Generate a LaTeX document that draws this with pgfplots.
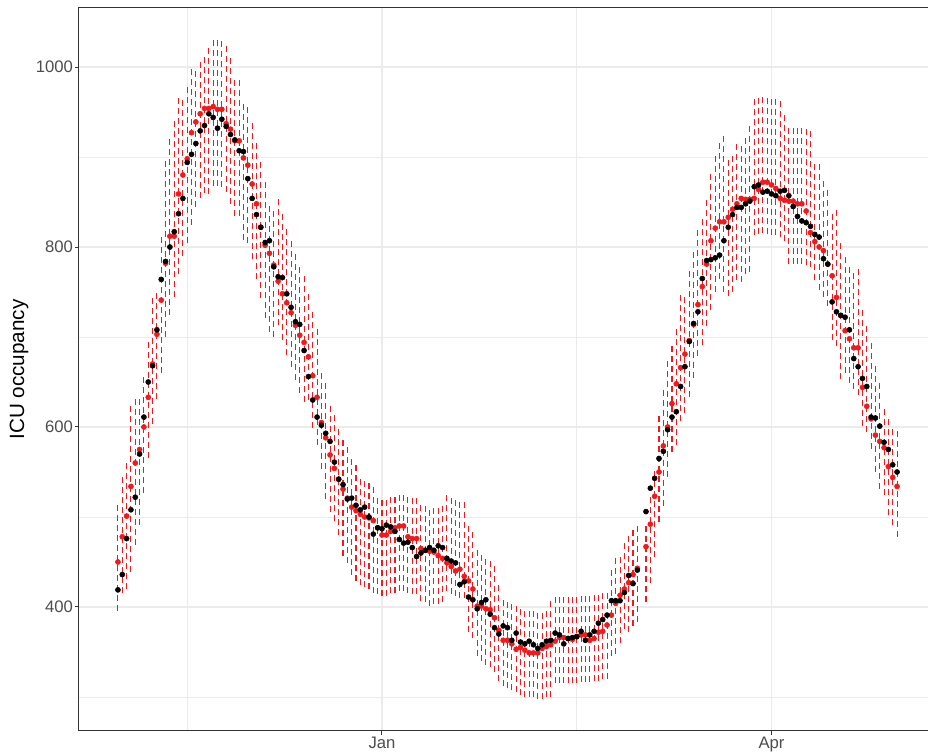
\documentclass[border=0pt]{standalone}
\usepackage{fontspec}
\setmainfont{Liberation Sans}
\usepackage{pgfplots}
\usepackage{pgfplotstable}
\usetikzlibrary{decorations.markings}
\pgfplotsset{compat=1.18}
\definecolor{gridc}{HTML}{EBEBEB}
\definecolor{gtext}{HTML}{4D4D4D}
\definecolor{borderc}{HTML}{333333}
\definecolor{predred}{HTML}{F2181C}
\tikzset{dashbar/.style={draw=none, postaction={decorate},
  decoration={markings, mark=between positions 0 and 1 step 7.5pt with {\fill[predred] (0pt,-0.4pt) rectangle (4.5pt,0.4pt);}}}}
\pgfplotstableread{
d b r lo hi
-61 419 450 395 508
-60 436 478 415 547
-59 476 501 420 559
-58 508 534 439 618
-57 522 560 469 626
-56 570 575 491 628
-55 611 600 527 656
-54 650 633 566 695
-53 668 670 603 738
-52 708 703 631 745
-51 764 741 660 808
-50 784 782 700 891
-49 800 812 725 924
-48 817 812 745 937
-47 837 859 770 960
-46 854 880 790 965
-45 894 898 805 978
-44 903 927 825 997
-43 915 939 845 997
-42 929 948 855 1005
-41 935 954 860 1007
-40 948 954 859 1018
-39 944 956 868 1026
-38 932 953 868 1026
-37 942 953 867 1026
-36 934 937 861 1018
-35 925 931 848 1005
-34 919 918 835 990
-33 907 918 835 990
-32 906 899 808 963
-31 876 891 804 952
-30 854 870 787 936
-29 836 848 765 914
-28 822 822 743 890
-27 805 802 721 870
-26 807 793 706 850
-25 778 780 700 841
-24 767 762 713 857
-23 766 748 697 833
-22 748 738 680 818
-21 733 727 667 804
-20 717 713 652 789
-19 714 702 638 776
-18 685 694 628 765
-17 656 678 630 748
-16 630 657 599 726
-15 611 633 580 708
-14 602 605 553 660
-13 593 588 520 645
-12 584 569 505 625
-11 561 554 495 612
-10 542 542 480 600
-9 536 531 457 590
-8 520 521 449 575
-7 521 511 435 562
-6 513 507 429 553
-5 508 503 424 542
-4 511 500 422 536
-3 500 499 420 532
-2 481 496 416 532
-1 488 488 414 521
0 487 480 412 520
1 491 480 412 520
2 489 484 416 520
3 484 488 416 521
4 475 490 418 523
5 471 490 418 523
6 472 478 416 520
7 466 476 414 520
8 456 476 414 520
9 460 465 407 509
10 463 463 405 509
11 466 462 401 509
12 463 461 403 509
13 468 457 403 509
14 466 454 405 509
15 454 449 418 523
16 451 445 414 522
17 449 440 412 520
18 425 442 410 517
19 428 434 410 517
20 411 429 372 490
21 408 420 365 480
22 398 401 345 458
23 405 401 340 455
24 408 398 335 452
25 392 397 333 448
26 377 388 328 440
27 370 374 318 425
28 379 363 312 412
29 377 363 310 410
30 363 359 308 408
31 371 353 305 405
32 361 355 302 402
33 359 352 300 400
34 362 349 300 398
35 358 349 300 398
36 354 349 298 398
37 358 354 298 398
38 362 356 300 400
39 363 358 300 402
40 371 362 315 414
41 369 366 315 414
42 359 366 316 413
43 365 365 316 413
44 366 364 315 413
45 367 367 316 412
46 373 369 317 412
47 363 369 317 412
48 369 363 317 413
49 373 365 318 414
50 382 372 318 415
51 386 373 320 416
52 391 380 320 418
53 407 391 346 438
54 407 404 348 449
55 407 413 360 458
56 416 420 376 468
57 435 427 372 479
58 426 436 379 486
59 441 443 383 488
61 506 467 405 488
62 532 492 427 523
63 543 523 455 553
64 565 550 494 608
65 573 579 512 638
66 597 600 544 671
67 611 626 572 687
68 617 648 580 706
69 645 666 607 748
70 667 681 615 746
71 695 696 633 770
72 715 714 655 793
73 728 736 679 813
74 765 756 691 833
75 785 781 712 855
76 786 807 730 877
77 788 821 750 896
78 791 828 764 912
79 807 828 750 922
80 822 833 746 892
81 836 842 750 897
82 844 848 763 908
83 844 854 761 916
84 848 853 770 921
85 851 853 772 929
86 867 854 813 958
87 869 864 815 962
88 861 872 816 967
89 862 872 815 967
90 859 869 813 965
91 857 865 813 963
92 862 854 811 958
93 863 852 807 949
94 857 851 781 929
95 845 851 781 929
96 834 848 781 929
97 829 848 781 929
98 827 840 780 927
99 823 816 778 925
100 814 806 763 896
101 811 800 752 886
102 787 796 745 873
103 781 781 734 861
104 739 768 697 837
105 728 744 690 835
106 724 724 653 800
107 722 707 660 785
108 708 698 649 772
109 676 688 642 770
110 667 688 636 770
111 654 644 601 730
112 645 623 594 712
113 611 609 575 697
114 610 591 550 664
115 601 584 531 649
116 583 577 524 620
117 575 556 502 609
118 558 544 491 601
119 550 534 478 598
}\datatab
\pgfplotstablegetrowsof{\datatab}
\pgfmathtruncatemacro{\nrowsm}{\pgfplotsretval-1}
\begin{document}
\begin{tikzpicture}
\fill[white] (-59.25pt,-15.75pt) rectangle (636.75pt,548.25pt);
\begin{axis}[
  at={(0,0)}, anchor=south west,
  scale only axis, width=642.75pt, height=542.25pt,
  xmin=-70, xmax=128, ymin=262.2, ymax=1065.6,
  xtick={0,90}, xticklabels={Jan,Apr},
  minor xtick={-45,45},
  ytick={400,600,800,1000}, minor ytick={300,500,700,900},
  grid=both,
  major grid style={gridc, line width=0.8pt},
  minor grid style={gridc, line width=0.45pt},
  axis line style={borderc, line width=0.75pt},
  major tick style={borderc, line width=0.75pt},
  major tick length=3pt, minor tick length=0pt,
  tick align=outside, xtick pos=bottom, ytick pos=left,
  tick label style={font=\fontsize{12.5}{12.5}\selectfont, text=gtext},
  xticklabel style={yshift=2pt},
  yticklabel style={xshift=2pt},
  /pgf/number format/assume math mode=true,
  /pgf/number format/set thousands separator={},
  ylabel={ICU occupancy},
  ylabel style={font=\fontsize{15.5}{15.5}\selectfont, at={(axis description cs:0,0.5)}, anchor=center, yshift=45pt},
]
\pgfplotsforeachungrouped \i in {0,...,\nrowsm}{%
  \pgfplotstablegetelem{\i}{d}\of\datatab \let\myd\pgfplotsretval
  \pgfplotstablegetelem{\i}{lo}\of\datatab \let\mylo\pgfplotsretval
  \pgfplotstablegetelem{\i}{hi}\of\datatab \let\myhi\pgfplotsretval
  \edef\mytemp{\noexpand\addplot[dashbar, mark=none, forget plot] coordinates {(\myd,\mylo) (\myd,\myhi)};}%
  \mytemp
}
\addplot[only marks, mark=*, mark size=1.9pt, mark options={draw=predred, fill=predred}] table[x=d, y=r] {\datatab};
\addplot[only marks, mark=*, mark size=1.9pt, mark options={draw=black, fill=black}] table[x=d, y=b] {\datatab};
\end{axis}
\pgfresetboundingbox
\useasboundingbox (-59.25pt,-15.75pt) rectangle (636.75pt,548.25pt);
\end{tikzpicture}
\end{document}
